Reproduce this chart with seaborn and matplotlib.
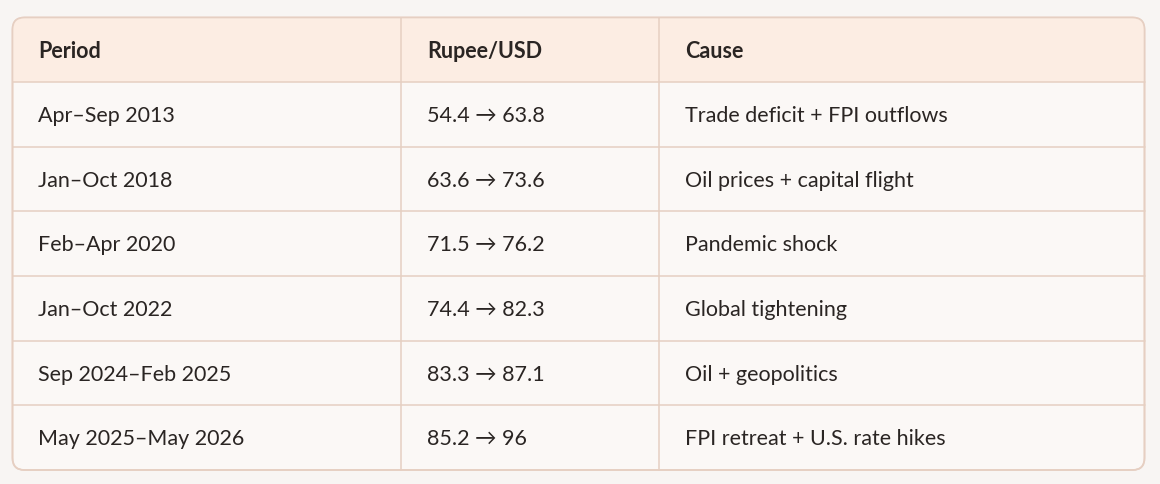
import matplotlib
matplotlib.use("Agg")
import matplotlib.pyplot as plt
from matplotlib.patches import FancyBboxPatch, Rectangle
import seaborn as sns

headers = ["Period", "Rupee/USD", "Cause"]
periods = ["Apr\u2013Sep 2013", "Jan\u2013Oct 2018", "Feb\u2013Apr 2020", "Jan\u2013Oct 2022",
           "Sep 2024\u2013Feb 2025", "May 2025\u2013May 2026"]
rupee = ["54.4 \u2192 63.8", "63.6 \u2192 73.6", "71.5 \u2192 76.2", "74.4 \u2192 82.3",
         "83.3 \u2192 87.1", "85.2 \u2192 96"]
causes = ["Trade deficit + FPI outflows", "Oil prices + capital flight", "Pandemic shock",
          "Global tightening", "Oil + geopolitics", "FPI retreat + U.S. rate hikes"]

sns.set_theme(style="white")
plt.rcParams['font.family'] = ['Lato', 'DejaVu Sans']

W, H = 1160, 484
fig = plt.figure(figsize=(W/100, H/100), dpi=100)
fig.patch.set_facecolor("#f8f5f3")
ax = fig.add_axes([0, 0, 1, 1])
ax.set_xlim(0, W); ax.set_ylim(H, 0); ax.axis("off")

left, right, top, bottom = 12.5, 1144.5, 17.5, 470
col_x = [left, 401, 659, right]
n = len(periods) + 1
row_h = (bottom - top) / n
border = "#e6cfc2"

ax.add_patch(FancyBboxPatch((left, top), right-left, bottom-top,
             boxstyle="round,pad=0,rounding_size=12", fc="#fbf8f6", ec=border, lw=1.2, zorder=1))
ax.add_patch(FancyBboxPatch((left, top), right-left, row_h,
             boxstyle="round,pad=0,rounding_size=12", fc="#fcede3", ec="none", zorder=2))
ax.add_patch(Rectangle((left+0.6, top+row_h/2), right-left-1.2, row_h/2, fc="#fcede3", ec="none", zorder=2))
ax.add_patch(FancyBboxPatch((left, top), right-left, bottom-top,
             boxstyle="round,pad=0,rounding_size=12", fc="none", ec=border, lw=1.2, zorder=5))

for i in range(1, n):
    y = top + i*row_h
    ax.plot([left, right], [y, y], color=border, lw=1.1, zorder=4)
for x in col_x[1:-1]:
    ax.plot([x, x], [top, bottom], color=border, lw=1.1, zorder=4)

pad = 26
fs = 15.5
for j, h in enumerate(headers):
    ax.text(col_x[j]+pad, top+row_h/2+1.5, h, fontsize=fs, fontweight="bold",
            color="#2a2523", va="center", ha="left", zorder=6)
for i, row in enumerate(zip(periods, rupee, causes)):
    yc = top + (i+1.5)*row_h + 1.5
    for j, t in enumerate(row):
        ax.text(col_x[j]+pad, yc, t, fontsize=fs, color="#2a2523",
                va="center", ha="left", zorder=6)

fig.savefig("out.png", dpi=100, facecolor=fig.get_facecolor())
